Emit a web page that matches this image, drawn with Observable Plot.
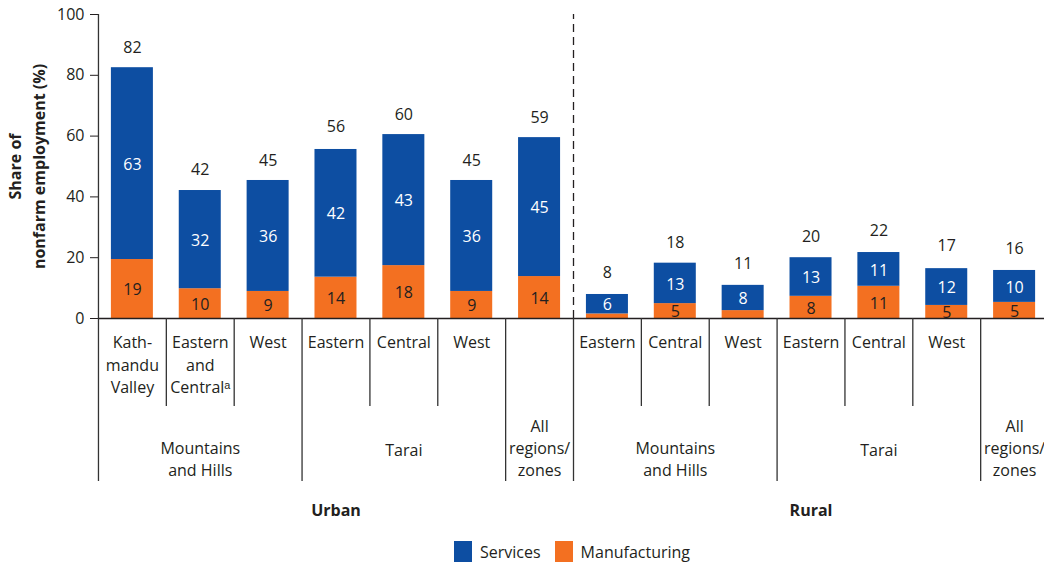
<!DOCTYPE html>
<html>
<head>
<meta charset="utf-8">
<script src="https://cdn.jsdelivr.net/npm/d3@7"></script>
<script src="https://cdn.jsdelivr.net/npm/@observablehq/plot@0.6"></script>
<style>
  html, body { margin: 0; padding: 0; background: #fff; }
  body { font-family: "Open Sans", sans-serif; color: #231f20; width: 1044px; height: 565px; position: relative; overflow: hidden; }
  #legend { position: absolute; top: 541px; left: 454px; display: flex; align-items: center; font-size: 16px; height: 21px; }
  #legend .sw { width: 18px; height: 21px; display: inline-block; }
  #legend .lb { margin-left: 8px; margin-right: 14px; line-height: 21px; position: relative; top: 1px; }
</style>
</head>
<body>
<div id="chart"></div>
<div id="legend"></div>
<script>
// ---- Data ----
const categories = [
  "U-MH-Kathmandu", "U-MH-EasternCentral", "U-MH-West",
  "U-T-Eastern", "U-T-Central", "U-T-West", "U-All",
  "R-MH-Eastern", "R-MH-Central", "R-MH-West",
  "R-T-Eastern", "R-T-Central", "R-T-West", "R-All"
];
const categoryLabels = [
  "Kath-\nmandu\nValley", "Eastern\nand\nCentral\u1d43", "West",
  "Eastern", "Central", "West", "",
  "Eastern", "Central", "West",
  "Eastern", "Central", "West", ""
];
const seriesNames = ["Services", "Manufacturing"];
const seriesColors = ["#0d4ea2", "#f37021"];
// bar segment values (share of nonfarm employment, %)
const manufacturing = [19.4, 9.8, 8.9, 13.6, 17.4, 8.9, 13.8, 1.5, 4.9, 2.6, 7.3, 10.6, 4.3, 5.3];
const services      = [63.1, 32.3, 36.5, 42.0, 43.1, 36.5, 45.7, 6.4, 13.3, 8.3, 12.7, 11.1, 12.1, 10.5];
// printed labels
const manufacturingLabels = ["19", "10", "9", "14", "18", "9", "14", null, "5", null, "8", "11", "5", "5"];
const servicesLabels      = ["63", "32", "36", "42", "43", "36", "45", "6", "13", "8", "13", "11", "12", "10"];
const totals = [82, 42, 45, 56, 60, 45, 59, 8, 18, 11, 20, 22, 17, 16];
// group level labels (anchored at the category in the middle of each group)
const groupNames   = ["Mountains\nand Hills", "Tarai", "All\nregions/\nzones", "Mountains\nand Hills", "Tarai", "All\nregions/\nzones"];
const groupAnchors = ["U-MH-EasternCentral", "U-T-Central", "U-All", "R-MH-Central", "R-T-Central", "R-All"];
const areaNames    = ["Urban", "Rural"];
const areaAnchors  = ["U-T-Eastern", "R-T-Eastern"];
// divider lines placed at the left edge of these categories
const shortDividers = ["U-MH-EasternCentral", "U-MH-West", "U-T-Central", "U-T-West", "R-MH-Central", "R-MH-West", "R-T-Central", "R-T-West"];
const longDividers  = ["U-MH-Kathmandu", "U-T-Eastern", "U-All", "R-MH-Eastern", "R-T-Eastern", "R-All"];
const areaDivider   = ["R-MH-Eastern"];
const yTicks = [0, 20, 40, 60, 80, 100];
const yLabel = "Share of\nnonfarm employment (%)";

// ---- Table for the library ----
const rows = [];
categories.forEach((c, i) => {
  rows.push({category: c, series: "Manufacturing", value: manufacturing[i], label: manufacturingLabels[i]});
  rows.push({category: c, series: "Services", value: services[i], label: servicesLabels[i]});
});
const totalRows = categories.map((c, i) => ({category: c, total: totals[i]}));
const catRows = categories.map((c, i) => ({category: c, label: categoryLabels[i]}));
const groupRows = groupNames.map((g, i) => ({category: groupAnchors[i], label: g}));
const areaRows = areaNames.map((a, i) => ({category: areaAnchors[i], label: a}));

// ---- Layout ----
const W = 1044, H = 530;
const mTop = 14, mBottom = 212, mLeft = 98;
const xRange = [98, 1048];
const step = (xRange[1] - xRange[0]) / categories.length;
const plotH = H - mTop - mBottom;
const ink = "#231f20";
const lineInk = "#333333";
const order = ["Manufacturing", "Services"];

const chart = Plot.plot({
  width: W,
  height: H,
  marginTop: mTop,
  marginBottom: mBottom,
  marginLeft: mLeft,
  marginRight: 0,
  style: {fontFamily: "'Open Sans', sans-serif", fontSize: "16px", color: ink, background: "#fff", overflow: "visible"},
  x: {domain: categories, range: xRange, paddingInner: 0.381, paddingOuter: 0.19, round: false, axis: null},
  y: {domain: [0, 100], axis: null},
  color: {domain: seriesNames, range: seriesColors},
  marks: [
    // y axis
    Plot.axisY({ticks: yTicks, tickSize: 8, tickPadding: 6, label: null, stroke: ink, fill: ink}),
    Plot.ruleX([categories[0]], {x: d => d, dx: -step / 2, y1: 0, y2: 100, stroke: lineInk, strokeWidth: 1.3}),
    // bars
    Plot.barY(rows, {x: "category", y: "value", fill: "series", order}),
    // segment labels
    Plot.text(rows, Plot.stackY({x: "category", y: "value", z: "series", order,
      text: d => d.series === "Services" ? d.label : null, fill: "white", dy: 1})),
    Plot.text(rows, Plot.stackY({x: "category", y: "value", z: "series", order,
      text: d => d.series === "Manufacturing" ? d.label : null, fill: ink, dy: 1})),
    // totals
    Plot.text(totalRows, {x: "category", y: "total", text: d => String(d.total), dy: -21, fill: ink}),
    // urban / rural dashed separator
    Plot.ruleX(areaDivider, {x: d => d, dx: -step / 2, y1: 0, y2: 100, stroke: ink, strokeWidth: 1.3, strokeDasharray: "8,5"}),
    // x axis baseline
    Plot.ruleY([0], {stroke: ink, strokeWidth: 1.6}),
    // table dividers below axis
    Plot.ruleX(shortDividers, {x: d => d, dx: -step / 2, insetTop: plotH, insetBottom: -88, stroke: lineInk, strokeWidth: 1.3}),
    Plot.ruleX(longDividers, {x: d => d, dx: -step / 2, insetTop: plotH, insetBottom: -163, stroke: lineInk, strokeWidth: 1.3}),
    // category labels
    Plot.text(catRows, {x: "category", text: "label", frameAnchor: "bottom", lineAnchor: "top", dy: 14, lineHeight: 1.39, fill: ink}),
    // group labels
    Plot.text(groupRows, {x: "category", text: "label", frameAnchor: "bottom", lineAnchor: "bottom", dy: 157, lineHeight: 1.37, fill: ink,
      filter: d => d.label.includes("\n")}),
    Plot.text(groupRows, {x: "category", text: "label", frameAnchor: "bottom", lineAnchor: "bottom", dy: 137, fill: ink,
      filter: d => !d.label.includes("\n")}),
    // area labels
    Plot.text(areaRows, {x: "category", text: "label", frameAnchor: "bottom", lineAnchor: "bottom", dy: 197, fontWeight: "bold", fill: ink}),
    // y label
    Plot.text([yLabel], {text: d => d, frameAnchor: "left", textAnchor: "middle", rotate: -90, dx: -73, lineHeight: 1.45, lineAnchor: "middle", fontWeight: "bold", fill: ink})
  ]
});
document.getElementById("chart").appendChild(chart);

// legend
const legend = document.getElementById("legend");
seriesNames.forEach((s, i) => {
  const sw = document.createElement("span");
  sw.className = "sw";
  sw.style.background = seriesColors[i];
  const lb = document.createElement("span");
  lb.className = "lb";
  lb.textContent = s;
  legend.appendChild(sw);
  legend.appendChild(lb);
});
</script>
</body>
</html>
